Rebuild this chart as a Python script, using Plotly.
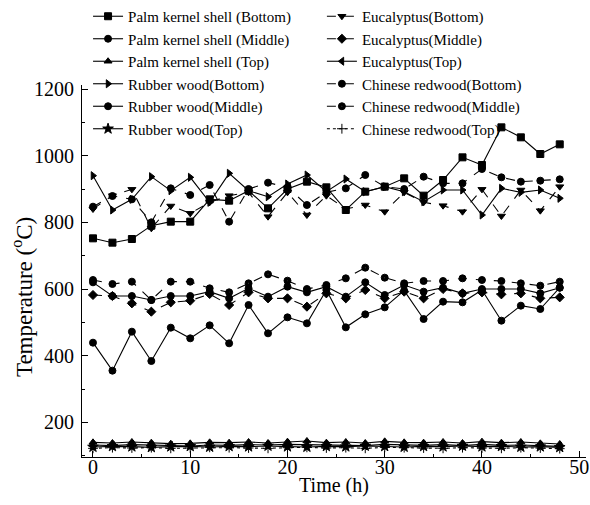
import plotly.graph_objects as go

time_h = [0, 2, 4, 6, 8, 10, 12, 14, 16, 18, 20, 22, 24, 26, 28, 30, 32, 34, 36, 38, 40, 42, 44, 46, 48]

palm_bottom = [752, 739, 750, 790, 802, 802, 869, 865, 895, 842, 900, 922, 905, 837, 892, 907, 932, 880, 927, 995, 972, 1085, 1055, 1005, 1034]
palm_middle = [439, 355, 472, 384, 484, 452, 491, 437, 552, 467, 515, 497, 597, 485, 524, 545, 595, 510, 562, 560, 597, 505, 550, 540, 604]
palm_top = [140, 138, 141, 139, 136, 137, 140, 139, 141, 138, 142, 144, 139, 141, 138, 143, 140, 139, 141, 138, 142, 139, 141, 137, 135]

rubber_bottom = [940, 837, 869, 937, 895, 935, 860, 947, 895, 877, 915, 942, 892, 930, 892, 907, 892, 862, 897, 897, 822, 902, 890, 897, 872]
rubber_middle = [620, 579, 579, 567, 579, 579, 592, 572, 602, 577, 607, 590, 607, 577, 620, 582, 612, 592, 604, 587, 600, 600, 600, 587, 604]
rubber_top = [126, 128, 127, 125, 127, 128, 126, 128, 127, 129, 127, 126, 128, 127, 129, 128, 126, 128, 127, 129, 127, 128, 126, 127, 125]

euc_bottom = [840, 880, 899, 782, 849, 827, 860, 880, 890, 817, 890, 822, 880, 840, 852, 832, 890, 860, 850, 832, 899, 819, 897, 835, 907]
euc_middle = [582, 579, 557, 532, 560, 565, 585, 552, 590, 572, 572, 547, 587, 572, 597, 572, 592, 572, 600, 587, 590, 584, 587, 572, 575]
euc_top = [132, 130, 133, 131, 130, 129, 132, 131, 133, 132, 134, 133, 131, 132, 130, 134, 132, 131, 133, 130, 134, 131, 132, 130, 128]

cr_bottom = [847, 879, 869, 800, 902, 882, 912, 802, 900, 919, 905, 852, 890, 902, 942, 907, 900, 937, 917, 917, 960, 935, 922, 925, 929]
cr_middle = [627, 615, 622, 567, 622, 622, 602, 590, 617, 644, 625, 600, 612, 632, 664, 634, 617, 624, 624, 632, 627, 624, 617, 610, 622]
cr_top = [122, 124, 123, 124, 122, 123, 125, 124, 123, 122, 124, 125, 123, 124, 122, 125, 124, 123, 122, 124, 123, 122, 124, 123, 121]

FONT = "Liberation Serif, Times New Roman, serif"

series = [
    ("Palm kernel shell (Bottom)", palm_bottom, "square", "solid", 7, "legend"),
    ("Palm kernel shell (Middle)", palm_middle, "circle", "solid", 7, "legend"),
    ("Palm kernel shell (Top)", palm_top, "triangle-up", "solid", 7, "legend"),
    ("Rubber wood(Bottom)", rubber_bottom, "triangle-right", "solid", 7, "legend"),
    ("Rubber wood(Middle)", rubber_middle, "circle", "solid", 7, "legend"),
    ("Rubber wood(Top)", rubber_top, "star", "solid", 8, "legend"),
    ("Eucalyptus(Bottom)", euc_bottom, "triangle-down", "dash", 7, "legend2"),
    ("Eucalyptus(Middle)", euc_middle, "diamond", "dash", 7, "legend2"),
    ("Eucalyptus(Top)", euc_top, "triangle-left", "solid", 7, "legend2"),
    ("Chinese redwood(Bottom)", cr_bottom, "circle", "dash", 7, "legend2"),
    ("Chinese redwood(Middle)", cr_middle, "circle-dot", "dash", 7, "legend2"),
    ("Chinese redwood(Top)", cr_top, "cross-thin", "dot", 7, "legend2"),
]

fig = go.Figure()
for name, vals, sym, dash, size, leg in series:
    fig.add_trace(go.Scatter(
        x=time_h, y=vals, name=name, mode="lines+markers",
        line=dict(color="black", width=1.1, dash=dash),
        marker=dict(symbol=sym, size=size, color="black",
                    line=dict(color="black", width=1)),
        legend=leg,
    ))

axis_common = dict(
    showline=True, linecolor="black", linewidth=1.2, mirror=False,
    ticks="inside", ticklen=6, tickcolor="black", tickwidth=1.2,
    showgrid=False, zeroline=False, ticklabeloverflow="allow",
    tickfont=dict(family=FONT, size=20, color="black"),
)

fig.update_layout(
    width=590, height=505,
    margin=dict(l=82, r=4, t=85, b=48, autoexpand=False),
    paper_bgcolor="white", plot_bgcolor="white",
    font=dict(family=FONT, color="black"),
    xaxis=dict(range=[-1.13, 50.7], dtick=10, tick0=0,
               minor=dict(dtick=5, ticks="inside", ticklen=3, tickcolor="black"),
               ticklabelstandoff=-8,
               title=dict(text="Time (h)", font=dict(family=FONT, size=20), standoff=0),
               **axis_common),
    yaxis=dict(range=[96, 1212], dtick=200, tick0=0,
               minor=dict(dtick=100, ticks="inside", ticklen=3, tickcolor="black"),
               ticklabelstandoff=3,
               **axis_common),
    legend=dict(x=0.012, y=1.2285, xanchor="left", yanchor="top",
                bgcolor="rgba(0,0,0,0)", font=dict(family=FONT, size=15),
                tracegroupgap=0, itemwidth=30),
    legend2=dict(x=0.476, y=1.2285, xanchor="left", yanchor="top",
                 bgcolor="rgba(0,0,0,0)", font=dict(family=FONT, size=15),
                 tracegroupgap=0, itemwidth=30),
    showlegend=True,
    annotations=[dict(
        text="Temperature (<sup>o</sup>C)", textangle=-90,
        xref="paper", yref="paper", x=-0.119, y=0.43,
        xanchor="center", yanchor="middle", showarrow=False,
        font=dict(family=FONT, size=23, color="black"),
    )],
)

fig.write_html(
    "out.html",
    config={"displayModeBar": False},
    post_script=(
        "document.body.style.margin='0';"
        "document.body.style.overflow='hidden';"
        "document.documentElement.style.overflow='hidden';"
    ),
)
